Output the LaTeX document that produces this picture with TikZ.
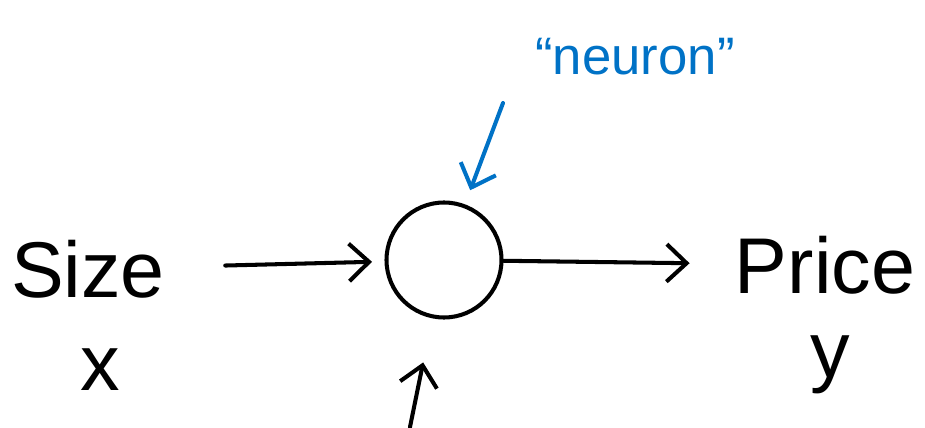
\documentclass[tikz,border=0pt]{standalone}
\usepackage{fontspec}
\setmainfont{Liberation Sans}
\usepackage{xcolor}
\usetikzlibrary{arrows.meta}
\definecolor{inkblue}{RGB}{0,114,198}

\begin{document}
\begin{tikzpicture}[
  ink/.style={line width=2.3pt, line cap=round, line join=round},
  arr/.style={ink, -{Straight Barb[length=4mm,width=7.5mm,line width=2.3pt]}},
  word/.style={font=\fontsize{45}{54}\selectfont, inner sep=1mm}
]
\useasboundingbox (0,0) rectangle (18.5,8.54);
\coordinate (B) at (8.2,0);
\coordinate (T) at (10.06,6.48);
\node[word] (size) at (1.76,3.16) {Size};
\node[word] (x) at (2.0,1.14) {x};
\node[ink, draw, circle, minimum size=2.3cm] (neuron) at (8.88,3.34) {};
\node[word] (price) at (16.5,3.24) {Price};
\node[word] (y) at (16.6,1.24) {y};
\node[text=inkblue, font=\fontsize{30}{36}\selectfont] (lbl) at (12.7,7.4) {``neuron''};
\draw[arr, shorten <=1.1cm, shorten >=0.25cm] (size) -- (neuron);
\draw[arr, shorten >=0.8cm] (neuron) -- (price);
\draw[arr, inkblue, shorten >=0.3cm] (T) -- (neuron);
\draw[arr, shorten >=0.9cm] (B) -- (neuron);
\end{tikzpicture}
\end{document}
